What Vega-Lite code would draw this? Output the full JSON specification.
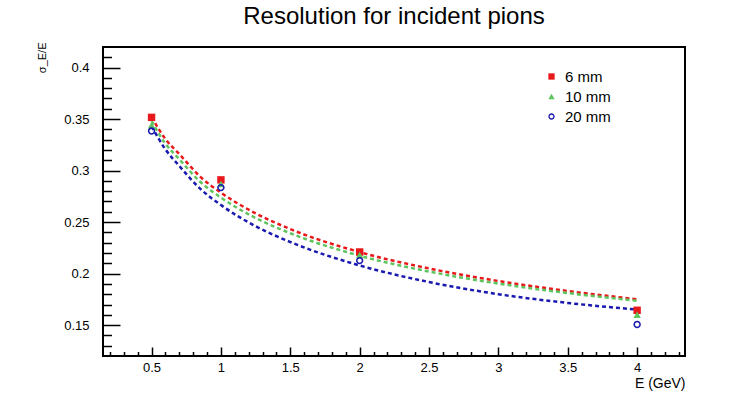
{
  "$schema": "https://vega.github.io/schema/vega-lite/v6.json",
  "autosize": "none",
  "width": 582,
  "height": 309,
  "padding": {"left": 103, "top": 47, "right": 61, "bottom": 41},
  "background": "white",
  "title": {"text": "Resolution for incident pions", "anchor": "middle", "frame": "group", "fontSize": 24, "fontWeight": "normal", "font": "Liberation Sans", "offset": 13, "color": "black"},
  "datasets": {
    "pts": [
      {"E": 0.5, "v": 0.3517, "s": "6 mm"}, {"E": 1, "v": 0.291, "s": "6 mm"}, {"E": 2, "v": 0.221, "s": "6 mm"}, {"E": 4, "v": 0.1644, "s": "6 mm"},
      {"E": 0.5, "v": 0.344, "s": "10 mm"}, {"E": 1, "v": 0.287, "s": "10 mm"}, {"E": 2, "v": 0.218, "s": "10 mm"}, {"E": 4, "v": 0.160, "s": "10 mm"},
      {"E": 0.5, "v": 0.3384, "s": "20 mm"}, {"E": 1, "v": 0.2835, "s": "20 mm"}, {"E": 2, "v": 0.2126, "s": "20 mm"}, {"E": 4, "v": 0.1506, "s": "20 mm"}
    ],
    "fits": [
      {"E": 0.5, "v": 0.352, "s": "6 mm"}, {"E": 0.6, "v": 0.3306, "s": "6 mm"}, {"E": 0.7, "v": 0.316, "s": "6 mm"}, {"E": 0.85, "v": 0.2942, "s": "6 mm"}, {"E": 1, "v": 0.2786, "s": "6 mm"}, {"E": 1.25, "v": 0.2585, "s": "6 mm"}, {"E": 1.5, "v": 0.2432, "s": "6 mm"}, {"E": 2, "v": 0.2209, "s": "6 mm"}, {"E": 2.5, "v": 0.205, "s": "6 mm"}, {"E": 3, "v": 0.1928, "s": "6 mm"}, {"E": 3.5, "v": 0.1831, "s": "6 mm"}, {"E": 4, "v": 0.1751, "s": "6 mm"},
      {"E": 0.5, "v": 0.348, "s": "10 mm"}, {"E": 0.6, "v": 0.3261, "s": "10 mm"}, {"E": 0.7, "v": 0.311, "s": "10 mm"}, {"E": 0.85, "v": 0.2892, "s": "10 mm"}, {"E": 1, "v": 0.2738, "s": "10 mm"}, {"E": 1.25, "v": 0.254, "s": "10 mm"}, {"E": 1.5, "v": 0.2392, "s": "10 mm"}, {"E": 2, "v": 0.2174, "s": "10 mm"}, {"E": 2.5, "v": 0.202, "s": "10 mm"}, {"E": 3, "v": 0.1903, "s": "10 mm"}, {"E": 3.5, "v": 0.1811, "s": "10 mm"}, {"E": 4, "v": 0.1736, "s": "10 mm"},
      {"E": 0.5, "v": 0.343, "s": "20 mm"}, {"E": 0.6, "v": 0.3206, "s": "20 mm"}, {"E": 0.7, "v": 0.3045, "s": "20 mm"}, {"E": 0.85, "v": 0.2825, "s": "20 mm"}, {"E": 1, "v": 0.2666, "s": "20 mm"}, {"E": 1.25, "v": 0.246, "s": "20 mm"}, {"E": 1.5, "v": 0.2307, "s": "20 mm"}, {"E": 2, "v": 0.2079, "s": "20 mm"}, {"E": 2.5, "v": 0.1918, "s": "20 mm"}, {"E": 3, "v": 0.18, "s": "20 mm"}, {"E": 3.5, "v": 0.1715, "s": "20 mm"}, {"E": 4, "v": 0.1651, "s": "20 mm"}
    ]
  },
  "encoding": {
    "x": {
      "field": "E", "type": "quantitative",
      "scale": {"domain": [0.15, 4.345], "nice": false, "zero": false},
      "axis": {
        "title": "E (GeV)",
        "values": [0.2, 0.3, 0.4, 0.5, 0.6, 0.7, 0.8, 0.9, 1, 1.1, 1.2, 1.3, 1.4, 1.5, 1.6, 1.7, 1.8, 1.9, 2, 2.1, 2.2, 2.3, 2.4, 2.5, 2.6, 2.7, 2.8, 2.9, 3, 3.1, 3.2, 3.3, 3.4, 3.5, 3.6, 3.7, 3.8, 3.9, 4, 4.1, 4.2, 4.3],
        "labelExpr": "abs(datum.value*2-round(datum.value*2))<0.001 ? format(datum.value,'~g') : ''",
        "tickSize": {"condition": {"test": "abs(datum.value*2-round(datum.value*2))<0.001", "value": -9}, "value": -4.5},
        "tickWidth": 1.5, "tickColor": "black",
        "domain": false, "grid": false,
        "labelPadding": 14, "labelFontSize": 13, "labelFont": "Liberation Sans", "labelColor": "black",
        "labelOverlap": false, "labelFlush": false,
        "titleFont": "Liberation Sans", "titleFontSize": 14, "titleFontWeight": "normal", "titleColor": "black",
        "titleAnchor": "end", "titleAlign": "right", "titleX": 582, "titleY": 34, "titleBaseline": "bottom"
      }
    },
    "y": {
      "field": "v", "type": "quantitative",
      "scale": {"domain": [0.12, 0.42], "nice": false, "zero": false},
      "axis": {
        "title": "σ_E/E",
        "values": [0.13, 0.14, 0.15, 0.16, 0.17, 0.18, 0.19, 0.2, 0.21, 0.22, 0.23, 0.24, 0.25, 0.26, 0.27, 0.28, 0.29, 0.3, 0.31, 0.32, 0.33, 0.34, 0.35, 0.36, 0.37, 0.38, 0.39, 0.4, 0.41],
        "labelExpr": "abs(datum.value*20-round(datum.value*20))<0.001 ? format(datum.value,'~g') : ''",
        "tickSize": {"condition": {"test": "abs(datum.value*20-round(datum.value*20))<0.001", "value": -17}, "value": -8.5},
        "tickWidth": 1.5, "tickColor": "black",
        "domain": false, "grid": false,
        "labelPadding": 31, "labelFontSize": 13, "labelFont": "Liberation Sans", "labelColor": "black",
        "labelOverlap": false, "labelFlush": false,
        "titleFont": "Liberation Sans", "titleFontSize": 11, "titleFontWeight": "normal", "titleColor": "black",
        "titleAnchor": "end", "titleAngle": -90, "titleAlign": "right", "titleBaseline": "middle", "titleX": -61, "titleY": -5
      }
    }
  },
  "layer": [
    {
      "data": {"name": "fits"},
      "mark": {"type": "line", "strokeDash": [4, 3], "strokeWidth": 2.5, "interpolate": "monotone"},
      "encoding": {
        "stroke": {"field": "s", "type": "nominal", "legend": null, "scale": {"range": ["#5ec45e", "#1a1ab0", "#e8191b"]}}
      }
    },
    {
      "data": {"name": "pts"},
      "mark": {"type": "point", "filled": true, "size": 55, "opacity": 1},
      "encoding": {
        "shape": {"field": "s", "type": "nominal", "title": null, "scale": {"domain": ["6 mm", "10 mm", "20 mm"], "range": ["square", "triangle-up", "M-1,0A1,1 0 1,1 1,0A1,1 0 1,1 -1,0ZM-0.58,0A0.58,0.58 0 1,0 0.58,0A0.58,0.58 0 1,0 -0.58,0Z"]}},
        "color": {"field": "s", "type": "nominal", "title": null, "scale": {"domain": ["6 mm", "10 mm", "20 mm"], "range": ["#e8191b", "#5ec45e", "#1a1ab0"]}}
      }
    }
  ],
  "config": {
    "view": {"stroke": "black", "strokeWidth": 2, "fill": "white"},
    "font": "Liberation Sans",
    "legend": {"orient": "none", "legendX": 441, "legendY": 22, "symbolSize": 40, "labelFontSize": 15, "labelFont": "Liberation Sans", "labelColor": "black", "rowPadding": 4, "labelOffset": 6}
  }
}
